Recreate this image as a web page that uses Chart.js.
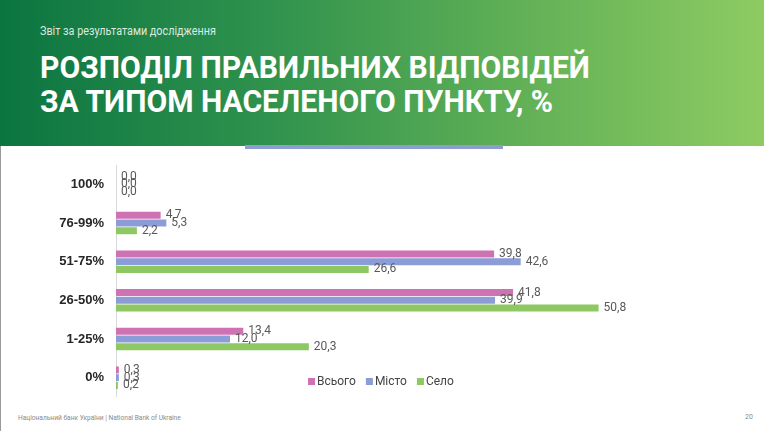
<!DOCTYPE html>
<html>
<head>
<meta charset="utf-8">
<script src="https://cdn.jsdelivr.net/npm/chart.js@4/dist/chart.umd.min.js"></script>
<style>
  html, body { margin: 0; padding: 0; }
  body { width: 764px; height: 431px; position: relative; overflow: hidden; background: #fff; font-family: Roboto, "Liberation Sans", sans-serif; }
  #header { position: absolute; left: 0; top: 0; width: 764px; height: 146px;
    background: linear-gradient(to right, #0b7541 0%, #2f924d 35%, #64b257 70%, #8ecb62 100%); }
  #sub { position: absolute; left: 40px; top: 24px; color: rgba(255,255,255,0.85); font-size: 12px;
    transform: scaleX(0.9); transform-origin: left top; white-space: nowrap; }
  #title { position: absolute; left: 40px; top: 50px; color: #fff; font-weight: bold; font-size: 32px; line-height: 34px;
    transform: scaleX(0.94); transform-origin: left top; white-space: nowrap; }
  #stripe { position: absolute; left: 245px; top: 145px; width: 258px; height: 4px; background: #8e9dd1; }
  #leftline { position: absolute; left: 0; top: 146px; width: 1px; height: 285px; background: #9a9a9a; }
  #wrap { position: absolute; left: 0; top: 165px; width: 686px; height: 232px; }
  #foot { position: absolute; left: 18px; top: 414px; font-size: 6.6px; color: #8a8a8a; white-space: nowrap; }
  #page { position: absolute; left: 745px; top: 413px; font-size: 7px; color: #8a8a8a; }
</style>
</head>
<body>
<div id="header">
  <div id="sub">Звіт за результатами дослідження</div>
  <div id="title">РОЗПОДІЛ ПРАВИЛЬНИХ ВІДПОВІДЕЙ<br>ЗА ТИПОМ НАСЕЛЕНОГО ПУНКТУ, %</div>
</div>
<div id="stripe"></div>
<div id="leftline"></div>
<div id="wrap"><canvas id="chart"></canvas></div>
<div id="foot">Національний банк України | National Bank of Ukraine</div>
<div id="page">20</div>
<script>
const categories = ["100%", "76-99%", "51-75%", "26-50%", "1-25%", "0%"];
const seriesNames = ["Всього", "Місто", "Село"];
const total = [0.0, 4.7, 39.8, 41.8, 13.4, 0.3];
const city = [0.0, 5.3, 42.6, 39.9, 12.0, 0.3];
const village = [0.0, 2.2, 26.6, 50.8, 20.3, 0.2];
const colors = ["#cf72b3", "#8c9dd6", "#8dc862"];

// value labels at the end of each bar
const valueLabels = {
  id: "valueLabels",
  afterDatasetsDraw(chart) {
    const ctx = chart.ctx;
    ctx.save();
    ctx.font = "12px Roboto";
    ctx.fillStyle = "#595959";
    ctx.textAlign = "left";
    ctx.textBaseline = "middle";
    chart.data.datasets.forEach((ds, i) => {
      chart.getDatasetMeta(i).data.forEach((bar, j) => {
        const txt = ds.data[j].toFixed(1).replace(".", ",");
        ctx.fillText(txt, bar.x + 5, bar.y);
      });
    });
    ctx.restore();
  }
};

// legend drawn inside the plot, near the bottom
const innerLegend = {
  id: "innerLegend",
  afterDraw(chart) {
    const ctx = chart.ctx;
    ctx.save();
    ctx.font = "12px Roboto";
    ctx.textBaseline = "middle";
    let x = 308;
    const y = 216.5;
    chart.data.datasets.forEach((ds) => {
      ctx.fillStyle = ds.backgroundColor;
      ctx.fillRect(x, y - 3.5, 7, 7);
      ctx.fillStyle = "#444";
      ctx.fillText(ds.label, x + 9, y + 0.5);
      x += 9 + ctx.measureText(ds.label).width + 10;
    });
    ctx.restore();
  }
};

const ctx = document.getElementById("chart").getContext("2d");
new Chart(ctx, {
  type: "bar",
  data: {
    labels: categories,
    datasets: [total, city, village].map((d, i) => ({
      label: seriesNames[i],
      data: d,
      backgroundColor: colors[i],
      barPercentage: 0.9,
      categoryPercentage: 0.6
    }))
  },
  options: {
    indexAxis: "y",
    responsive: true,
    maintainAspectRatio: false,
    animation: false,
    layout: { padding: 0 },
    plugins: { legend: { display: false }, tooltip: { enabled: false } },
    scales: {
      x: { display: false, min: 0, max: 60 },
      y: {
        afterFit: (scale) => {
          scale.width = 116;
          scale.paddingTop = 0;
          scale.paddingBottom = 0;
        },
        grid: { display: false, drawTicks: false },
        border: { color: "#d9d9d9", width: 1 },
        ticks: { padding: 12, color: "#262626", font: { family: "Liberation Sans", size: 13, weight: "bold" } }
      }
    }
  },
  plugins: [valueLabels, innerLegend]
});
</script>
</body>
</html>
